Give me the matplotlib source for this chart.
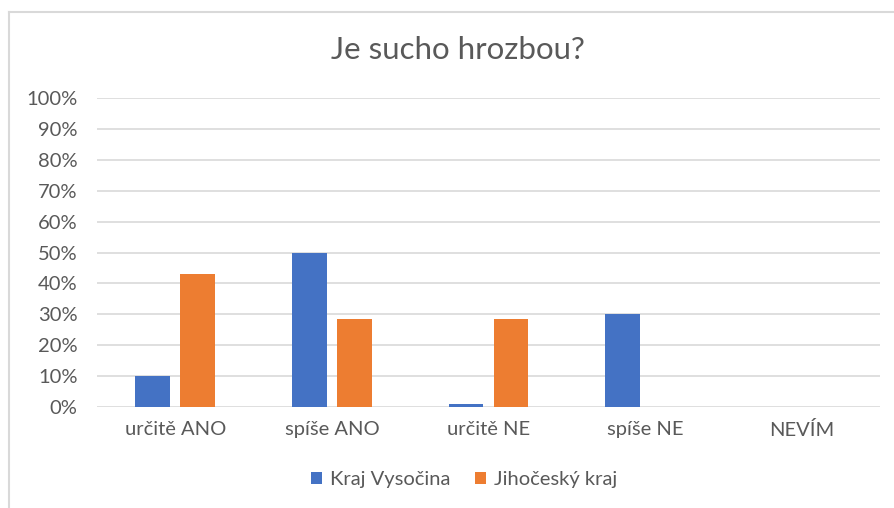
import matplotlib
matplotlib.use("Agg")
import matplotlib.pyplot as plt
import numpy as np
from matplotlib.lines import Line2D

categories = ["určitě ANO", "spíše ANO", "určitě NE", "spíše NE", "NEVÍM"]
vysocina = [10, 50, 1, 30, 0]
jihocesky = [43, 28.6, 28.6, 0, 0]
series_names = ["Kraj Vysočina", "Jihočeský kraj"]
yticks = list(range(0, 101, 10))

plt.rcParams['font.family'] = ['Lato', 'DejaVu Sans']
text_color = '#595959'

fig = plt.figure(figsize=(8.95, 5.08), dpi=100)
ax = fig.add_axes([97/895, 1-407/508, (880-97)/895, (407-98)/508])

x = np.arange(len(categories))
w = 0.223
gap = 0.064
ax.bar(x - (w+gap)/2, vysocina, w, color='#4472C4', label=series_names[0], zorder=3)
ax.bar(x + (w+gap)/2, jihocesky, w, color='#ED7D31', label=series_names[1], zorder=3)

ax.set_xlim(-0.5, len(categories)-0.5)
ax.set_ylim(0, 100)
ax.set_yticks(yticks)
ax.set_yticklabels([f"{t}%" for t in yticks], fontsize=14.5, color=text_color)
ax.set_xticks(x)
ax.set_xticklabels(categories, fontsize=14.5, color=text_color)
ax.tick_params(axis='both', length=0)
ax.tick_params(axis='x', pad=10)
ax.tick_params(axis='y', pad=14)
ax.grid(axis='y', color='#D9D9D9', linewidth=1.2, zorder=0)
for s in ax.spines.values():
    s.set_visible(False)

fig.text(458/895, 1-50/508, "Je sucho hrozbou?", ha='center', va='center', fontsize=22.5, color=text_color)

leg = fig.legend(loc='center', bbox_to_anchor=(464/895, 1-480/508), ncol=2, frameon=False,
                 fontsize=14.5, handlelength=0.55, handleheight=0.55, handletextpad=0.4, columnspacing=1.2)
for t in leg.get_texts():
    t.set_color(text_color)

fig.add_artist(Line2D([9/895, 1], [1-12/508, 1-12/508], transform=fig.transFigure,
                      color='#D9D9D9', linewidth=1.5))
fig.add_artist(Line2D([9/895, 9/895], [0, 1-12/508], transform=fig.transFigure,
                      color='#D9D9D9', linewidth=1.5))

fig.savefig("out.png", dpi=100)
